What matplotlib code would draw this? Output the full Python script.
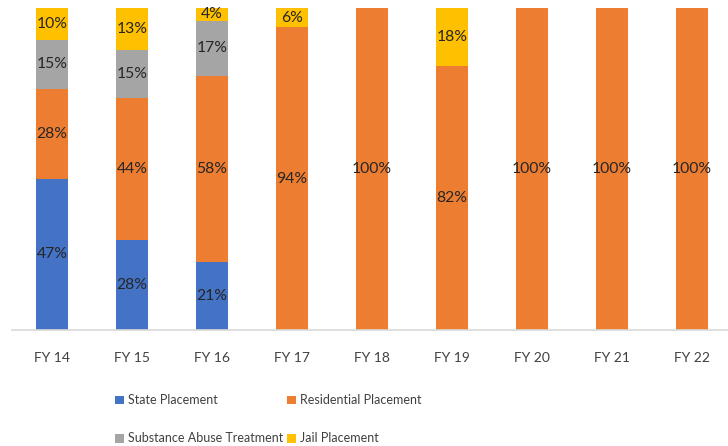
import matplotlib
matplotlib.use("Agg")
import matplotlib.pyplot as plt
import numpy as np

categories = ["FY 14", "FY 15", "FY 16", "FY 17", "FY 18", "FY 19", "FY 20", "FY 21", "FY 22"]
state = [47, 28, 21, 0, 0, 0, 0, 0, 0]
residential = [28, 44, 58, 94, 100, 82, 100, 100, 100]
substance = [15, 15, 17, 0, 0, 0, 0, 0, 0]
jail = [10, 13, 4, 6, 0, 18, 0, 0, 0]

series = [
    ("State Placement", state, "#4472C4"),
    ("Residential Placement", residential, "#ED7D31"),
    ("Substance Abuse Treatment", substance, "#A5A5A5"),
    ("Jail Placement", jail, "#FFC000"),
]

plt.rcParams['font.family'] = ['Lato', 'DejaVu Sans']

W, H = 728, 446
fig = plt.figure(figsize=(W / 100, H / 100), dpi=100)
ax = fig.add_axes([12 / W, 1 - 330 / H, 720 / W, 322 / H])

x = np.arange(len(categories))
bottom = np.zeros(len(categories))
handles = {}
for name, vals, color in series:
    v = np.array(vals, dtype=float)
    frac = v / 100.0
    b = ax.bar(x, frac, 0.4, bottom=bottom, color=color, label=name,
               edgecolor="none")
    handles[name] = b
    for xi, fi, bi, vi in zip(x, frac, bottom, v):
        if vi > 0:
            ax.text(xi, bi + fi / 2, f"{int(vi)}%", ha="center", va="center",
                    fontsize=11.3, color="#262626")
    bottom += frac

ax.set_xlim(-0.5, len(categories) - 0.5)
ax.set_ylim(0, 1)
ax.set_yticks([])
for s in ["top", "right", "left"]:
    ax.spines[s].set_visible(False)
ax.spines["bottom"].set_color("#D9D9D9")
ax.spines["bottom"].set_linewidth(1.2)
ax.set_xticks(x)
ax.set_xticklabels(categories, fontsize=10, color="#404040")
ax.tick_params(axis="x", length=0, pad=16)

order = ["State Placement", "Substance Abuse Treatment", "Residential Placement", "Jail Placement"]
leg = fig.legend([handles[n] for n in order], order, ncol=2,
                 loc="upper left", bbox_to_anchor=(104 / W, 1 - 383 / H),
                 frameon=False, fontsize=9, handlelength=0.7, handleheight=0.7,
                 handletextpad=0.35, columnspacing=0.3, labelspacing=2.1,
                 labelcolor="#404040")

fig.savefig("out.png", dpi=100)
